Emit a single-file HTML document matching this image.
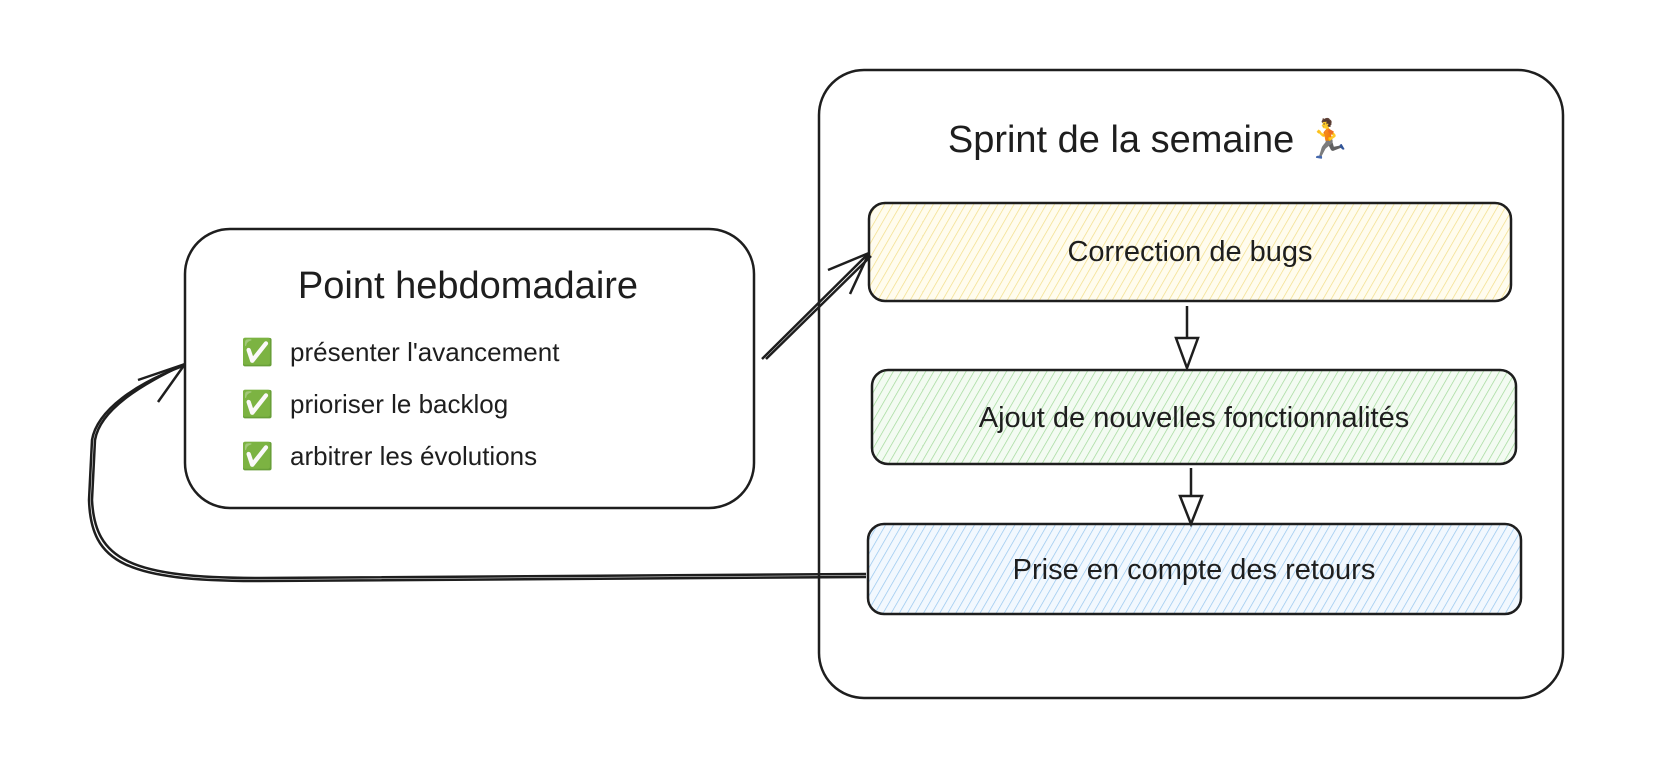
<!DOCTYPE html>
<html><head><meta charset="utf-8"><style>
body{margin:0;background:#fff;width:1654px;height:764px;overflow:hidden}
svg text{font-family:"Liberation Sans","DejaVu Sans",sans-serif;fill:#1e1e1e}
</style></head><body>
<svg width="1654" height="764" viewBox="0 0 1654 764" xmlns="http://www.w3.org/2000/svg">
<defs>
<pattern id="py" width="7" height="7" patternUnits="userSpaceOnUse" patternTransform="rotate(30)"><rect width="7" height="7" fill="#fffcee"/><line x1="0" y1="0" x2="0" y2="7" stroke="#f2dd85" stroke-width="1.4"/></pattern>
<pattern id="pg" width="7" height="7" patternUnits="userSpaceOnUse" patternTransform="rotate(30)"><rect width="7" height="7" fill="#f3fbf2"/><line x1="0" y1="0" x2="0" y2="7" stroke="#9fd897" stroke-width="1.4"/></pattern>
<pattern id="pb" width="7" height="7" patternUnits="userSpaceOnUse" patternTransform="rotate(30)"><rect width="7" height="7" fill="#f2f8fe"/><line x1="0" y1="0" x2="0" y2="7" stroke="#94c5ee" stroke-width="1.4"/></pattern>
</defs>
<g fill="none" stroke="#1e1e1e" stroke-width="2.5">
<rect x="819" y="70" width="744" height="628" rx="45"/>
<rect x="185" y="229" width="569" height="279" rx="45"/>
<rect x="869" y="203" width="642" height="98" rx="16" fill="url(#py)"/>
<rect x="872" y="370" width="644" height="94" rx="16" fill="url(#pg)"/>
<rect x="868" y="524" width="653" height="90" rx="16" fill="url(#pb)"/>
<path d="M762 359 L869 253"/>
<path d="M766 359 L871 256"/>
<path d="M869 253 L828 270 M869 253 L850 294"/>
<path d="M1187 306 L1187 340"/>
<path d="M1176 338 L1198 338 L1187 368 Z" fill="#fff"/>
<path d="M1191 468 L1191 498"/>
<path d="M1180 496 L1202 496 L1191 524 Z" fill="#fff"/>
<path d="M866 574 L260 578 C130 578 95 560 92 500 L95 440 C100 410 140 385 185 364"/>
<path d="M866 577 L260 581 C126 581 91 563 89 500 L92 440 C97 410 137 383 183 366"/>
<path d="M185 364 L138 380 M185 364 L158 402"/>
</g>
<text x="1150" y="152" font-size="38" text-anchor="middle">Sprint de la semaine 🏃</text>
<text x="468" y="298" font-size="38" text-anchor="middle">Point hebdomadaire</text>
<g font-size="26">
<text x="241" y="361">✅</text><text x="290" y="361">présenter l'avancement</text>
<text x="241" y="413">✅</text><text x="290" y="413">prioriser le backlog</text>
<text x="241" y="465">✅</text><text x="290" y="465">arbitrer les évolutions</text>
</g>
<g font-size="29" text-anchor="middle">
<text x="1190" y="261">Correction de bugs</text>
<text x="1194" y="427">Ajout de nouvelles fonctionnalités</text>
<text x="1194" y="579">Prise en compte des retours</text>
</g>
</svg>
</body></html>
